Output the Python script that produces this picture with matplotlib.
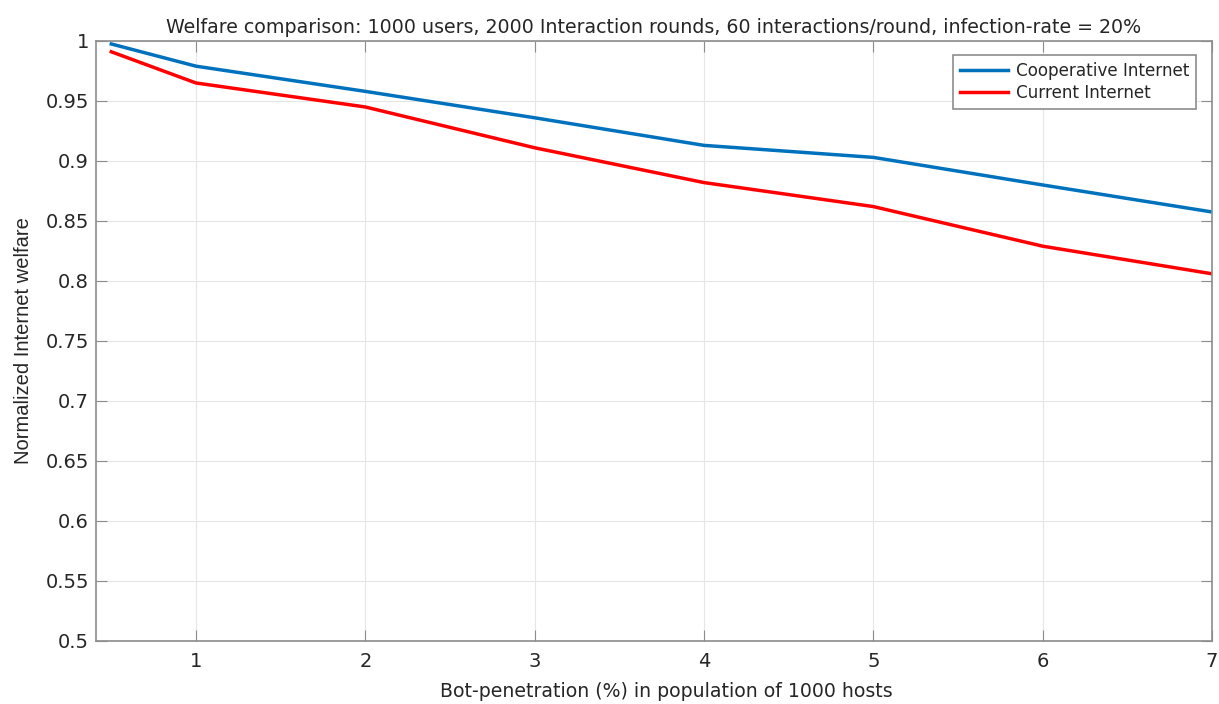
import matplotlib
matplotlib.use("Agg")
import matplotlib.pyplot as plt
import numpy as np

x = [0.5, 1, 2, 3, 4, 5, 6, 7]
cooperative = [0.9975, 0.979, 0.958, 0.936, 0.913, 0.903, 0.880, 0.8575]
current = [0.991, 0.965, 0.945, 0.911, 0.882, 0.862, 0.829, 0.806]
xticks = [1, 2, 3, 4, 5, 6, 7]
yticks = [0.5, 0.55, 0.6, 0.65, 0.7, 0.75, 0.8, 0.85, 0.9, 0.95, 1]

plt.rcParams['font.family'] = ['DejaVu Sans']
TXT = '#262626'

fig = plt.figure(figsize=(12.19, 7.04), dpi=100)
ax = fig.add_axes([0.0788, 0.0895, 0.9155, 0.8523])

ax.plot(x, cooperative, color='#0072BD', lw=2.5, label='Cooperative Internet', solid_joinstyle='round')
ax.plot(x, current, color='#FF0000', lw=2.5, label='Current Internet', solid_joinstyle='round')

ax.set_xlim(0.41, 7)
ax.set_ylim(0.5, 1)
ax.set_xticks(xticks)
ax.set_yticks(yticks)
ax.set_yticklabels(['%g' % v for v in yticks])
ax.grid(True, color='#e6e6e6', lw=0.8)
ax.set_axisbelow(True)
for s in ax.spines.values():
    s.set_color('#8c8c8c')
    s.set_linewidth(1.2)
ax.tick_params(direction='in', length=8, color='#8c8c8c', labelsize=14, labelcolor=TXT,
               top=True, right=True)
ax.tick_params(axis='x', pad=8)
ax.tick_params(axis='y', pad=5)

ax.set_xlabel('Bot-penetration (%) in population of 1000 hosts', fontsize=13.6, color=TXT)
ax.xaxis.set_label_coords(0.511, -0.068)
ax.set_ylabel('Normalized Internet welfare', fontsize=14.5, color=TXT, labelpad=9,
              family='Liberation Sans')
ax.set_title('Welfare comparison: 1000 users, 2000 Interaction rounds, 60 interactions/round, infection-rate = 20%',
             fontsize=13.65, color=TXT, pad=6)

leg = ax.legend(loc='upper right', bbox_to_anchor=(0.9857, 0.9767), borderaxespad=0,
                fontsize=12.1, frameon=True, fancybox=False, framealpha=1,
                edgecolor='#8c8c8c', handlelength=2.9, handletextpad=0.45,
                borderpad=0.4, labelspacing=0.25)
leg.get_frame().set_linewidth(1.2)
for t in leg.get_texts():
    t.set_color(TXT)

fig.savefig('out.png', dpi=100)
